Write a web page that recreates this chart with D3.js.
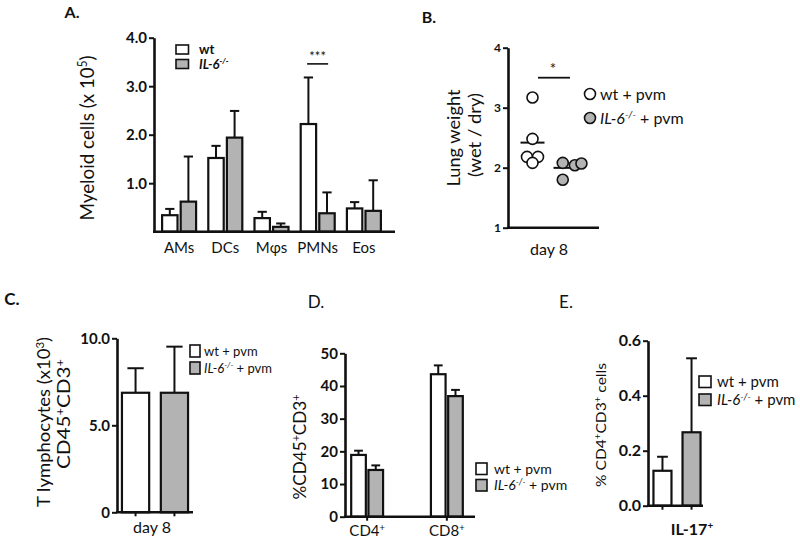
<!DOCTYPE html>
<html><head><meta charset="utf-8">
<script src="https://cdn.jsdelivr.net/npm/d3@7"></script>
<style>
body{margin:0;background:#fff;}
svg text{font-family:Lato,"Open Sans",sans-serif;fill:#111;}
</style></head><body>
<svg id="c" width="800" height="543"></svg>
<script>
// ---------- data ----------
const groups = ["wt", "IL-6-/-"];
// Panel A: myeloid cells (x 10^5)
const myeloidCats = ["AMs", "DCs", "Mφs", "PMNs", "Eos"];
const myeloidWt = [0.34, 1.52, 0.28, 2.22, 0.48];
const myeloidWtErr = [0.13, 0.25, 0.13, 0.96, 0.13];
const myeloidKo = [0.62, 1.94, 0.10, 0.38, 0.43];
const myeloidKoErr = [0.93, 0.55, 0.07, 0.43, 0.63];
const myeloidTicks = [1, 2, 3, 4];
// Panel B: lung weight (wet / dry), day 8
const lungWt = [3.17, 2.48, 2.18, 2.18, 2.08];
const lungWtJitter = [0, 0, -1, 1, 0];
const lungKo = [2.08, 1.80, 2.04, 2.07];
const lungKoJitter = [-0.5, -0.5, 1.7, 2.9];
const lungTicks = [1, 2, 3, 4];
// Panel C: T lymphocytes (x10^3), day 8
const tcellCats = ["day 8"];
const tcellWt = [6.87], tcellWtErr = [1.41];
const tcellKo = [6.87], tcellKoErr = [2.65];
const tcellTicks = [0, 5, 10];
// Panel D: %CD45+CD3+
const subsetCats = ["CD4", "CD8"];
const subsetWt = [18.9, 43.6], subsetWtErr = [1.3, 2.7];
const subsetKo = [14.3, 36.9], subsetKoErr = [1.4, 1.9];
const subsetTicks = [0, 10, 20, 30, 40, 50];
// Panel E: % CD4+CD3+ cells IL-17+
const il17Cats = ["IL-17"];
const il17Wt = [0.127], il17WtErr = [0.051];
const il17Ko = [0.267], il17KoErr = [0.269];
const il17Ticks = [0, 0.2, 0.4, 0.6];

// ---------- helpers ----------
const svg = d3.select("#c");
const GRAY = "#b3b3b3", INK = "#111";

function yAxis(scale, x, ticks, fmt, fs) {
  const g = svg.append("g").attr("transform", `translate(${x},0)`)
    .call(d3.axisLeft(scale).tickValues(ticks).tickFormat(fmt).tickSize(5).tickSizeOuter(0).tickPadding(2));
  g.select(".domain").attr("stroke", INK).attr("stroke-width", 2.6);
  g.selectAll(".tick line").attr("stroke", INK).attr("stroke-width", 2);
  g.selectAll(".tick text").attr("font-size", fs).attr("font-weight", 700)
    .attr("font-family", "Lato").attr("fill", "#111");
  return g;
}
function baseline(x0, x1, y) {
  svg.append("line").attr("x1", x0).attr("x2", x1).attr("y1", y).attr("y2", y)
    .attr("stroke", INK).attr("stroke-width", 2.6);
}
function bars(data, y) {
  const g = svg.append("g");
  data.forEach(d => {
    const capW = d.w * 0.6;
    g.append("line").attr("x1", d.x + d.w / 2).attr("x2", d.x + d.w / 2)
      .attr("y1", y(d.v)).attr("y2", y(d.v + d.e)).attr("stroke", INK).attr("stroke-width", 2);
    g.append("line").attr("x1", d.x + d.w / 2 - capW / 2).attr("x2", d.x + d.w / 2 + capW / 2)
      .attr("y1", y(d.v + d.e)).attr("y2", y(d.v + d.e)).attr("stroke", INK).attr("stroke-width", 2);
    g.append("rect").attr("x", d.x).attr("y", y(d.v)).attr("width", d.w)
      .attr("height", y(0) - y(d.v)).attr("fill", d.fill).attr("stroke", INK).attr("stroke-width", 2.2);
  });
}
function ylabel(x, y, fs, parts, len) {
  const t = svg.append("text").attr("transform", `translate(${x},${y}) rotate(-90)`)
    .attr("text-anchor", "middle").attr("font-size", fs).attr("dy", "0.35em");
  if (len) t.attr("textLength", len).attr("lengthAdjust", "spacingAndGlyphs");
  parts.forEach(p => addPart(t, p, fs));
  return t;
}
function addPart(t, p, fs) {
  if (typeof p === "string") { t.append("tspan").text(p); return; }
  const s = t.append("tspan").text(p.t);
  if (p.sup) s.attr("font-size", fs * 0.62).attr("baseline-shift", "super");
  if (p.it) s.attr("font-style", "italic");
}
function text(x, y, fs, parts, anchor = "middle", weight = 400) {
  const t = svg.append("text").attr("x", x).attr("y", y).attr("font-size", fs)
    .attr("text-anchor", anchor).attr("font-weight", weight);
  parts.forEach(p => addPart(t, p, fs));
  return t;
}
const koLabel = (tail) => [{ t: "IL-6", it: true }, { t: "-/-", it: true, sup: true }, tail];
function legendBoxes(x, ys, w, h, fs, tx, labels, weight = 400) {
  ys.forEach((yy, i) => {
    svg.append("rect").attr("x", x).attr("y", yy).attr("width", w).attr("height", h)
      .attr("fill", i ? GRAY : "#fff").attr("stroke", INK).attr("stroke-width", 1.6);
    text(tx, yy + h / 2 + fs * 0.35, fs, labels[i], "start", weight);
  });
}

// ---------- Panel A ----------
const yA = d3.scaleLinear().domain([0, 4]).range([231.7, 37.7]);
const xA = d3.scaleBand().domain(myeloidCats).range([156, 387]).paddingInner(0.264).paddingOuter(0.132);
const xA1 = d3.scaleBand().domain(groups).range([0, xA.bandwidth()]).paddingInner(0.17);
bars(myeloidCats.flatMap((c, i) => [
  { x: xA(c) + xA1("wt"), w: xA1.bandwidth(), v: myeloidWt[i], e: myeloidWtErr[i], fill: "#fff" },
  { x: xA(c) + xA1("IL-6-/-"), w: xA1.bandwidth(), v: myeloidKo[i], e: myeloidKoErr[i], fill: GRAY }
]), yA);
yAxis(yA, 154, myeloidTicks, d3.format(".1f"), 15);
baseline(153, 395, yA(0));
myeloidCats.forEach(c => text(xA(c) + xA.bandwidth() / 2, 253, 15, [c]));
ylabel(87, 138, 20, ["Myeloid cells (x 10", { t: "5", sup: true }, ")"], 165);
text(72, 18, 16, ["A."], "middle", 700);
legendBoxes(176, [45, 59.5], 12.5, 9, 13, 199, [["wt"], koLabel("")], 700);
{
  const cx = xA("PMNs") + xA1("wt") + xA1.bandwidth() + 1.5;
  svg.append("line").attr("x1", cx - 10.5).attr("x2", cx + 10.5).attr("y1", yA(3.46)).attr("y2", yA(3.46))
    .attr("stroke", INK).attr("stroke-width", 1.6);
  text(cx, yA(3.46) - 3, 13, ["***"], "middle").attr("fill", "#555");
}

// ---------- Panel B ----------
const yB = d3.scaleLinear().domain([1, 4]).range([227.7, 47.7]);
const xB = d3.scalePoint().domain(groups).range([532.5, 565.5]);
const jit = 5.5, R = 5.5;
yAxis(yB, 508, lungTicks, d3.format("d"), 12);
baseline(507, 599, yB(1));
const meanW = 12;
[[lungWt, lungWtJitter, "wt", "#fff"], [lungKo, lungKoJitter, "IL-6-/-", GRAY]].forEach(([vals, js, gname, fill]) => {
  const m = d3.mean(vals);
  svg.append("line").attr("x1", xB(gname) - meanW).attr("x2", xB(gname) + meanW)
    .attr("y1", yB(m)).attr("y2", yB(m)).attr("stroke", INK).attr("stroke-width", 2);
  svg.append("g").selectAll("circle").data(vals).join("circle")
    .attr("cx", (d, i) => xB(gname) + js[i] * jit).attr("cy", d => yB(d)).attr("r", R)
    .attr("fill", fill).attr("stroke", INK).attr("stroke-width", 1.6);
});
svg.append("line").attr("x1", 538).attr("x2", 570).attr("y1", yB(3.5)).attr("y2", yB(3.5))
  .attr("stroke", INK).attr("stroke-width", 1.8);
text(553, yB(3.5) - 4, 15, ["*"]);
ylabel(454, 138, 17, ["Lung weight"], 97);
ylabel(475, 135, 17, ["(wet / dry)"], 84);
text(549, 255, 16, ["day 8"]);
text(429, 23, 16, ["B."], "middle", 700);
[["#fff", ["wt + pvm"]], [GRAY, koLabel(" + pvm")]].forEach(([f, lab], i) => {
  const yy = 94 + i * 24;
  svg.append("circle").attr("cx", 590).attr("cy", yy).attr("r", R).attr("fill", f)
    .attr("stroke", INK).attr("stroke-width", 1.6);
  text(600, yy + 5.5, 16, lab, "start");
});

// ---------- Panel C ----------
const yC = d3.scaleLinear().domain([0, 10]).range([512.3, 338.3]);
const xC = d3.scaleBand().domain(groups).range([120, 190]).paddingInner(0.3).paddingOuter(0.05);
bars([
  { x: xC("wt"), w: xC.bandwidth(), v: tcellWt[0], e: tcellWtErr[0], fill: "#fff" },
  { x: xC("IL-6-/-"), w: xC.bandwidth(), v: tcellKo[0], e: tcellKoErr[0], fill: GRAY }
], yC);
yAxis(yC, 117, tcellTicks, d => d === 0 ? "0" : d3.format(".1f")(d), 15);
baseline(116, 193, yC(0));
groups.forEach(g => svg.append("line").attr("x1", xC(g) + xC.bandwidth() / 2).attr("x2", xC(g) + xC.bandwidth() / 2)
  .attr("y1", yC(0)).attr("y2", yC(0) + 4).attr("stroke", INK).attr("stroke-width", 2));
ylabel(44, 422, 18, ["T lymphocytes (x10", { t: "3", sup: true }, ")"], 170);
ylabel(64, 414, 18, ["CD45", { t: "+", sup: true }, "CD3", { t: "+", sup: true }], 110);
text(152, 533, 16, [tcellCats[0]]);
text(12, 305, 17, ["C."], "middle", 700);
legendBoxes(190, [345, 362], 10, 12, 13, 204, [["wt + pvm"], koLabel(" + pvm")]);

// ---------- Panel D ----------
const yD = d3.scaleLinear().domain([0, 50]).range([516.7, 353.3]);
const xD = d3.scaleBand().domain(subsetCats).range([348, 466]).paddingInner(0.6).paddingOuter(0.04);
const xD1 = d3.scaleBand().domain(groups).range([0, xD.bandwidth()]).paddingInner(0.15);
bars(subsetCats.flatMap((c, i) => [
  { x: xD(c) + xD1("wt"), w: xD1.bandwidth(), v: subsetWt[i], e: subsetWtErr[i], fill: "#fff" },
  { x: xD(c) + xD1("IL-6-/-"), w: xD1.bandwidth(), v: subsetKo[i], e: subsetKoErr[i], fill: GRAY }
]), yD);
yAxis(yD, 345, subsetTicks, d3.format("d"), 15);
baseline(344, 475, yD(0));
subsetCats.forEach(c => {
  const cx = xD(c) + xD.bandwidth() / 2;
  svg.append("line").attr("x1", cx).attr("x2", cx).attr("y1", yD(0)).attr("y2", yD(0) + 4)
    .attr("stroke", INK).attr("stroke-width", 2);
  text(cx, 536, 15, [c, { t: "+", sup: true }]);
});
ylabel(300, 447, 18, ["%CD45", { t: "+", sup: true }, "CD3", { t: "+", sup: true }], 105);
text(316, 308, 17, ["D."], "middle", 400);
legendBoxes(476, [463, 479.5], 11, 11.5, 14, 494, [["wt + pvm"], koLabel(" + pvm")]);

// ---------- Panel E ----------
const yE = d3.scaleLinear().domain([0, 0.6]).range([505.7, 340.7]);
const xE = d3.scaleBand().domain(groups).range([652, 702]).paddingInner(0.38).paddingOuter(0.05);
bars([
  { x: xE("wt"), w: xE.bandwidth(), v: il17Wt[0], e: il17WtErr[0], fill: "#fff" },
  { x: xE("IL-6-/-"), w: xE.bandwidth(), v: il17Ko[0], e: il17KoErr[0], fill: GRAY }
], yE);
yAxis(yE, 648, il17Ticks, d3.format(".1f"), 16);
baseline(647, 703, yE(0));
groups.forEach(g => svg.append("line").attr("x1", xE(g) + xE.bandwidth() / 2).attr("x2", xE(g) + xE.bandwidth() / 2)
  .attr("y1", yE(0)).attr("y2", yE(0) + 4).attr("stroke", INK).attr("stroke-width", 2));
ylabel(601, 425, 14, ["% CD4", { t: "+", sup: true }, "CD3", { t: "+", sup: true }, " cells"], 124);
text(692, 535, 16, [il17Cats[0], { t: "+", sup: true }], "middle", 700);
text(566, 308, 17, ["E."], "middle", 400);
legendBoxes(699, [376, 394], 12, 11.5, 15, 717, [["wt + pvm"], koLabel(" + pvm")]);
</script>
</body></html>
